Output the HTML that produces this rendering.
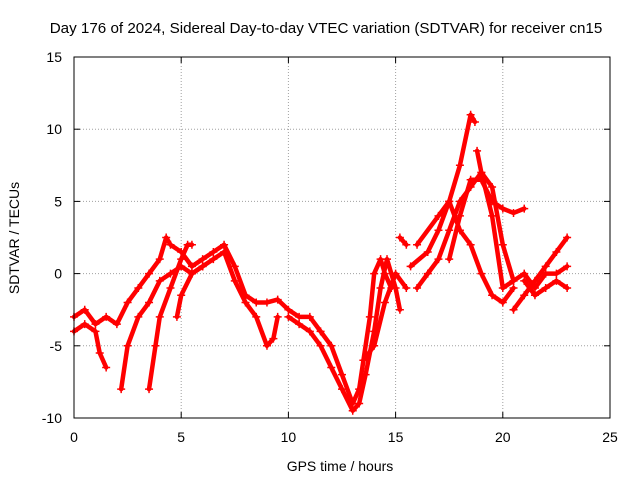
<!DOCTYPE html>
<html><head><meta charset="utf-8">
<style>
html,body{margin:0;padding:0;background:#fff;}
svg text{font-family:"Liberation Sans",sans-serif;font-size:14px;fill:#000;}
</style></head>
<body>
<svg id="chart" width="640" height="480" xmlns="http://www.w3.org/2000/svg">
<rect width="640" height="480" fill="#fff"/>
<text x="326" y="33" text-anchor="middle" style="font-size:15.2px">Day 176 of 2024, Sidereal Day-to-day VTEC variation (SDTVAR) for receiver cn15</text>
<g id="grid"></g>
<g id="ticks"></g>
<g id="series"></g>
<rect x="74" y="57" width="536" height="361" fill="none" stroke="#000" stroke-width="1"/>
<text x="340" y="471" text-anchor="middle">GPS time / hours</text>
<text x="0" y="0" text-anchor="middle" transform="translate(19,238) rotate(-90)">SDTVAR / TECUs</text>
</svg>
<script>
const xTicks=[0,5,10,15,20,25];
const yTicks=[-10,-5,0,5,10,15];
const trackA=[[0,-3],[0.5,-2.5],[1,-3.5],[1.5,-3],[2,-3.5],[2.5,-2],[3,-1],[3.5,0],[4,1],[4.3,2.5],[4.5,2],[5,1.5],[5.5,0.5],[6,1],[6.5,1.5],[7,2],[7.5,0.5],[8,-1.5],[8.5,-2],[9,-2],[9.5,-1.8],[10,-2.5],[10.5,-3],[11,-3],[11.5,-4],[12,-5],[12.5,-7],[13,-9],[13.3,-8],[13.5,-6],[13.8,-3],[14,0],[14.3,1],[14.5,0],[14.8,-1]];
const trackB=[[2.2,-8],[2.5,-5],[3,-3],[3.5,-2],[4,-0.5],[4.5,0],[5,0.5],[5.5,0],[6,0.5],[6.5,1],[7,1.5],[7.5,-0.5],[8,-2],[8.5,-3],[9,-5],[9.3,-4.5],[9.5,-3]];
const trackC=[[3.5,-8],[3.8,-5],[4,-3],[4.5,-1],[5,1],[5.3,2],[5.5,2]];
const trackD=[[0,-4],[0.5,-3.5],[1,-4],[1.2,-5.5],[1.5,-6.5]];
const trackE=[[4.8,-3],[5,-1.5],[5.5,0],[6,0.5]];
const trackF=[[10,-3],[10.5,-3.5],[11,-4],[11.5,-5],[12,-6.5],[12.5,-8],[13,-9.5],[13.3,-9],[13.6,-7],[14,-4],[14.3,-1],[14.6,1],[15,-1],[15.2,-2.5]];
const trackG=[[13.5,-6],[14,-5],[14.5,-2],[15,0],[15.5,-1]];
const trackH=[[15.2,2.5],[15.5,2]];
const trackI=[[16,-1],[16.5,0],[17,1],[17.5,3],[18,5],[18.5,6],[19,7],[19.5,4],[20,-1],[20.5,-0.5],[21,0],[21.5,-1],[22,0],[22.5,0],[23,0.5]];
const trackJ=[[15.7,0.5],[16.5,1.5],[17,3],[17.5,5],[18,7.5],[18.5,11],[18.7,10.5]];
const trackK=[[17.5,1],[18,4],[18.5,6.5],[19,6.5],[19.5,5],[20,4.5],[20.5,4.2],[21,4.5]];
const trackL=[[16,2],[17,4],[17.5,5],[18,3],[18.5,2],[19,0],[19.5,-1.5],[20,-2],[20.5,-1]];
const trackM=[[20.5,-2.5],[21,-1.5],[21.5,-0.5],[22,0.5],[22.5,1.5],[23,2.5]];
const trackN=[[21,-0.5],[21.5,-1.5],[22,-1],[22.5,-0.5],[23,-1]];
const trackO=[[18.8,8.5],[19,7],[19.5,6],[20,2],[20.5,-0.5]];
const tracks=[trackA,trackB,trackC,trackD,trackE,trackF,trackG,trackH,trackI,trackJ,trackK,trackL,trackM,trackN,trackO];

const NS="http://www.w3.org/2000/svg";
const X0=74,X1=610,Y0=418,Y1=57;
function sx(t){return X0+(t-0)/(25-0)*(X1-X0);}
function sy(v){return Y0-(v+10)/(25)*(Y0-Y1);}
function mk(tag,attrs,parent){const e=document.createElementNS(NS,tag);for(const k in attrs)e.setAttribute(k,attrs[k]);parent.appendChild(e);return e;}
const grid=document.getElementById('grid'),ticks=document.getElementById('ticks'),ser=document.getElementById('series');
xTicks.forEach(t=>{
  const x=sx(t);
  if(t>0&&t<25){const g=mk('line',{x1:x,x2:x,y1:Y0,y2:Y1,stroke:'#a0a0a0','stroke-dasharray':'1,2'},grid);
  
  }
  mk('line',{x1:x,x2:x,y1:Y0,y2:Y0-6,stroke:'#000'},ticks);
  mk('line',{x1:x,x2:x,y1:Y1,y2:Y1+6,stroke:'#000'},ticks);
  const l=mk('text',{x:x,y:Y0+24,'text-anchor':'middle'},ticks);l.textContent=t;
  
  
});
yTicks.forEach(v=>{
  const y=sy(v);
  if(v>-10&&v<15){const g=mk('line',{x1:X0,x2:X1,y1:y,y2:y,stroke:'#a0a0a0','stroke-dasharray':'1,2'},grid);
  
  }
  mk('line',{x1:X0,x2:X0+6,y1:y,y2:y,stroke:'#000'},ticks);
  mk('line',{x1:X1,x2:X1-6,y1:y,y2:y,stroke:'#000'},ticks);
  const l=mk('text',{x:62,y:y+5,'text-anchor':'end'},ticks);l.textContent=v;
  
  
});
tracks.forEach(tr=>{
  const pl=mk('polyline',{points:tr.map(p=>sx(p[0])+','+sy(p[1])).join(' '),fill:'none',stroke:'#ff0000','stroke-width':4.5,'stroke-linejoin':'round','stroke-linecap':'round'},ser);
  
  
  tr.forEach(p=>{
    const x=sx(p[0]),y=sy(p[1]);
    const m=mk('path',{d:`M${x-4},${y}h8M${x},${y-4}v8`,stroke:'#ff0000','stroke-width':1.5},ser);
    
    
  });
});
</script>
</body></html>
